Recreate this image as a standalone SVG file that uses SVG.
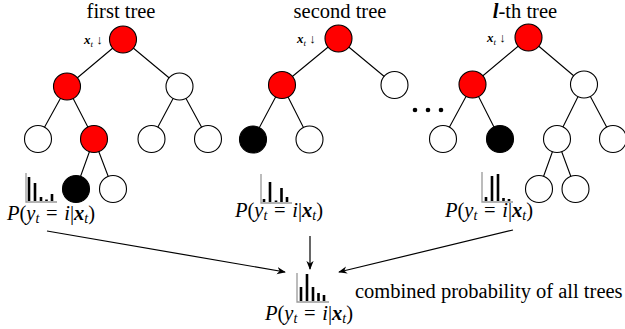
<svg xmlns="http://www.w3.org/2000/svg" width="625" height="329" viewBox="0 0 625 329">
<style>
.n{stroke:#000;stroke-width:1.1}
.red{fill:#ff0000}
.wh{fill:#fff}
.bk{fill:#000}
.e{stroke:#000;stroke-width:1.1;fill:none}
.ax{stroke:#999;stroke-width:1.3;fill:none}
.bar{stroke:#000;stroke-width:2.6}
text{font-family:'Liberation Serif','DejaVu Serif',serif;fill:#000}
.title{font-size:20.5px}
.lbl{font-size:20.5px}
.inp{font-size:13px}
.it{font-style:italic}
.bi{font-style:italic;font-weight:bold}
.sub{font-style:italic;font-size:14px}
.ar{stroke:#000;stroke-width:1.2;fill:none}
</style>
<defs>
<marker id="ah" viewBox="0 0 10 10" refX="9" refY="5" markerWidth="9" markerHeight="9" markerUnits="userSpaceOnUse" orient="auto">
<path d="M0,1 L10,5 L0,9 L3,5 Z" fill="#000"/>
</marker>
</defs>
<rect width="625" height="329" fill="#fff"/>

<g id="connectors">
<path class="e" d="M123,39.5L67,86.5M123,39.5L179.5,86.5M67,86.5L38,139M67,86.5L94,139M179.5,86.5L151.5,139M179.5,86.5L208,139M94,139L76,189M94,139L113,189"/>
<path class="e" d="M338.5,38.5L282,85M338.5,38.5L394.5,85M282,85L253,139.5M282,85L309.5,139.5"/>
<path class="e" d="M528.5,37.5L472.5,84.5M528.5,37.5L584,84.5M472.5,84.5L443,139M472.5,84.5L500,139M584,84.5L557,139M584,84.5L613,139M557,139L539,189M557,139L575.5,189"/>
<line class="ar" x1="47" y1="231" x2="285" y2="272" marker-end="url(#ah)"/>
<line class="ar" x1="310" y1="236" x2="310" y2="269" marker-end="url(#ah)"/>
<line class="ar" x1="513" y1="230" x2="339" y2="272" marker-end="url(#ah)"/>
</g>

<g id="tree1">
<text class="title" x="121" y="18" text-anchor="middle">first tree</text>
<g id="t1-input"><text class="inp" x="84" y="44"><tspan class="bi">x</tspan><tspan font-size="9" dy="3" class="it">t</tspan><tspan dy="-3"> ↓</tspan></text></g>
<g id="t1-root"><circle class="n red" cx="123" cy="39.5" r="13.5"/></g>
<g id="t1-l"><circle class="n red" cx="67" cy="86.5" r="13.5"/></g>
<g id="t1-r"><circle class="n wh" cx="179.5" cy="86.5" r="13.5"/></g>
<g id="t1-ll"><circle class="n wh" cx="38" cy="139" r="13.5"/></g>
<g id="t1-lr"><circle class="n red" cx="94" cy="139" r="13.5"/></g>
<g id="t1-rl"><circle class="n wh" cx="151.5" cy="139" r="13.5"/></g>
<g id="t1-rr"><circle class="n wh" cx="208" cy="139" r="13.5"/></g>
<g id="t1-lrl"><circle class="n bk" cx="76" cy="189" r="13.5"/></g>
<g id="t1-lrr"><circle class="n wh" cx="113" cy="189" r="13.5"/></g>
<g id="t1-hist">
<path class="ax" d="M26,173V202H57"/>
<path class="bar" d="M29,201V177M35,201V183M41,201V197M46.5,201V199.5M52,201V194"/>
<text class="lbl" x="7" y="220"><tspan class="it">P</tspan>(<tspan class="it">y</tspan><tspan class="sub" dy="3">t</tspan><tspan dy="-3" dx="1.5"> = </tspan><tspan class="it" dx="1.5">i</tspan>|<tspan class="bi">x</tspan><tspan class="sub" dy="3">t</tspan><tspan dy="-3">)</tspan></text>
</g>
</g>

<g id="tree2">
<text class="title" x="340" y="18" text-anchor="middle">second tree</text>
<g id="t2-input"><text class="inp" x="297" y="43"><tspan class="bi">x</tspan><tspan font-size="9" dy="3" class="it">t</tspan><tspan dy="-3"> ↓</tspan></text></g>
<g id="t2-root"><circle class="n red" cx="338.5" cy="38.5" r="13.5"/></g>
<g id="t2-l"><circle class="n red" cx="282" cy="85" r="13.5"/></g>
<g id="t2-r"><circle class="n wh" cx="394.5" cy="85" r="13.5"/></g>
<g id="t2-ll"><circle class="n bk" cx="253" cy="139.5" r="13.5"/></g>
<g id="t2-lr"><circle class="n wh" cx="309.5" cy="139.5" r="13.5"/></g>
<g id="t2-hist">
<path class="ax" d="M261,174V203H292"/>
<path class="bar" d="M264,202V199M270,202V182M276,202V200.5M281.5,202V188M287,202V197"/>
<text class="lbl" x="235" y="217"><tspan class="it">P</tspan>(<tspan class="it">y</tspan><tspan class="sub" dy="3">t</tspan><tspan dy="-3" dx="1.5"> = </tspan><tspan class="it" dx="1.5">i</tspan>|<tspan class="bi">x</tspan><tspan class="sub" dy="3">t</tspan><tspan dy="-3">)</tspan></text>
</g>
</g>

<g id="ellipsis">
<circle cx="415" cy="110" r="2.3" fill="#000"/>
<circle cx="428" cy="110" r="2.3" fill="#000"/>
<circle cx="441" cy="110" r="2.3" fill="#000"/>
</g>

<g id="tree3">
<text class="title" x="525" y="18" text-anchor="middle"><tspan class="bi">l</tspan>-th tree</text>
<g id="t3-input"><text class="inp" x="487" y="42"><tspan class="bi">x</tspan><tspan font-size="9" dy="3" class="it">t</tspan><tspan dy="-3"> ↓</tspan></text></g>
<g id="t3-root"><circle class="n red" cx="528.5" cy="37.5" r="13.5"/></g>
<g id="t3-l"><circle class="n red" cx="472.5" cy="84.5" r="13.5"/></g>
<g id="t3-r"><circle class="n wh" cx="584" cy="84.5" r="13.5"/></g>
<g id="t3-ll"><circle class="n wh" cx="443" cy="139" r="13.5"/></g>
<g id="t3-lr"><circle class="n bk" cx="500" cy="139" r="13.5"/></g>
<g id="t3-rl"><circle class="n wh" cx="557" cy="139" r="13.5"/></g>
<g id="t3-rr"><circle class="n wh" cx="613" cy="139" r="13.5"/></g>
<g id="t3-rll"><circle class="n wh" cx="539" cy="189" r="13.5"/></g>
<g id="t3-rlr"><circle class="n wh" cx="575.5" cy="189" r="13.5"/></g>
<g id="t3-hist">
<path class="ax" d="M482,172V202H513"/>
<path class="bar" d="M486,201V197M492,201V176M498,201V174M503.5,201V198M509,201V199"/>
<text class="lbl" x="445" y="217"><tspan class="it">P</tspan>(<tspan class="it">y</tspan><tspan class="sub" dy="3">t</tspan><tspan dy="-3" dx="1.5"> = </tspan><tspan class="it" dx="1.5">i</tspan>|<tspan class="bi">x</tspan><tspan class="sub" dy="3">t</tspan><tspan dy="-3">)</tspan></text>
</g>
</g>

<g id="combined">
<path class="ax" d="M297,273V302H329"/>
<path class="bar" d="M301,301V287M307,301V274M313,301V287M318.5,301V293M324,301V295"/>
<text class="lbl" x="265" y="320"><tspan class="it">P</tspan>(<tspan class="it">y</tspan><tspan class="sub" dy="3">t</tspan><tspan dy="-3" dx="1.5"> = </tspan><tspan class="it" dx="1.5">i</tspan>|<tspan class="bi">x</tspan><tspan class="sub" dy="3">t</tspan><tspan dy="-3">)</tspan></text>
<text class="lbl" x="355" y="298">combined probability of all trees</text>
</g>
</svg>
